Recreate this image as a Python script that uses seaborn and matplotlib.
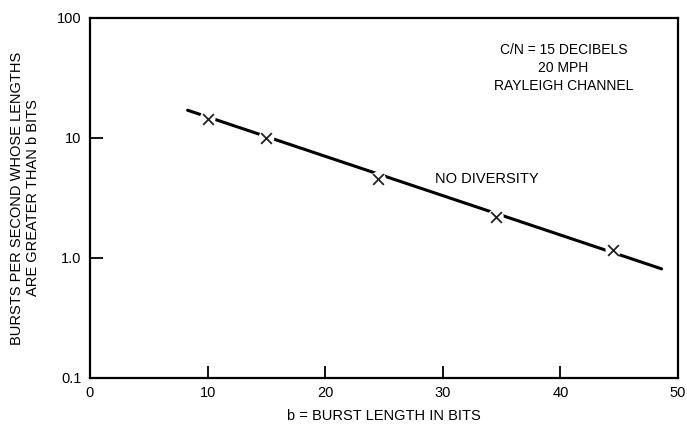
import matplotlib
matplotlib.use("Agg")
import matplotlib.pyplot as plt
import seaborn as sns
import pandas as pd

# measured points (burst length, bursts per second)
burst_len = [10, 15, 24.5, 34.5, 44.5]
burst_rate = [14.5, 10.0, 4.5, 2.2, 1.17]

# fitted straight line drawn through the points
line_len = [8.3, 48.6]
line_rate = [17.0, 0.81]

x_ticks = [0, 10, 20, 30, 40, 50]
y_ticks = [0.1, 1, 10, 100]
y_tick_labels = ["0.1", "1.0", "10", "100"]

sns.set_style("ticks")
plt.rcParams["font.family"] = ["Liberation Sans", "DejaVu Sans"]
plt.rcParams["text.color"] = "black"
plt.rcParams["axes.labelcolor"] = "black"
plt.rcParams["xtick.color"] = "black"
plt.rcParams["ytick.color"] = "black"

pts = pd.DataFrame({"b": burst_len, "rate": burst_rate})
fit = pd.DataFrame({"b": line_len, "rate": line_rate})

fig = plt.figure(figsize=(6.87, 4.26), dpi=100)
ax = fig.add_axes([0.131, 0.113, 0.856, 0.845])

sns.lineplot(data=fit, x="b", y="rate", color="black", linewidth=2.2, ax=ax)
# white patches leave small gaps in the line around each marker
sns.scatterplot(data=pts, x="b", y="rate", marker="o", s=130, color="white",
                edgecolor="none", zorder=3, ax=ax)
sns.scatterplot(data=pts, x="b", y="rate", marker="x", s=60, color="#222222",
                linewidth=1.3, zorder=4, ax=ax)

ax.set_yscale("log")
ax.set_xlim(0, 50)
ax.set_ylim(0.1, 100)
ax.set_xticks(x_ticks)
ax.set_xticklabels([str(t) for t in x_ticks])
ax.set_yticks(y_ticks)
ax.set_yticklabels(y_tick_labels)
ax.minorticks_off()
ax.tick_params(direction="in", length=9, width=1.3, labelsize=10.5, pad=6)

for s in ax.spines.values():
    s.set_linewidth(1.6)
    s.set_color("black")
    s.set_visible(True)

ax.set_xlabel("b = BURST LENGTH IN BITS", fontsize=10.5, labelpad=6)
ax.set_ylabel("BURSTS PER SECOND WHOSE LENGTHS\nARE GREATER THAN b BITS",
              fontsize=10.5, labelpad=12)

ax.text(29.3, 4.5, "NO DIVERSITY", fontsize=10.5, va="center", ha="left")
ax.text(0.805, 0.93, "C/N = 15 DECIBELS\n20 MPH\nRAYLEIGH CHANNEL",
        transform=ax.transAxes, ha="center", va="top", fontsize=10,
        linespacing=1.35)

fig.savefig("out.png", dpi=100)
